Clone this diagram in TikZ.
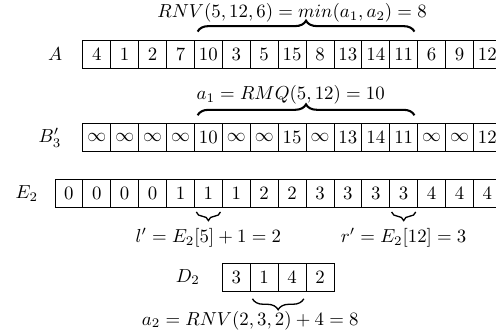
\documentclass[tikz,border=0pt]{standalone}
\usetikzlibrary{decorations.pathreplacing}

\begin{document}
\begin{tikzpicture}[x=14.83pt, y=14.83pt,
    cell/.style={draw, minimum size=14.83pt, inner sep=0pt},
    lbl/.style={anchor=east},
    bigbrc/.style={decorate, line width=1.1pt, decoration={brace, amplitude=5.8pt, raise=4.3pt}},
    midbrc/.style={decorate, line width=0.7pt, decoration={brace, amplitude=5.8pt, raise=3.9pt}},
    smallbrc/.style={decorate, line width=0.7pt, decoration={brace, amplitude=4.6pt, raise=2.2pt}}
]
\useasboundingbox (-2.47,-10.07) rectangle (15.31,1.935);

% array A
\node[lbl] (lA) at (0,0) {$A$};
\foreach \v [count=\i] in {4,1,2,7,10,3,5,15,8,13,14,11,6,9,12}
    \node[cell] (a\i) at (\i,0) {$\v$};

% array B'_3
\node[lbl] (lB) at (-0.03,-3) {$B'_3$};
\foreach \v [count=\i] in {\infty,\infty,\infty,\infty,10,\infty,\infty,15,\infty,13,14,11,\infty,\infty,12}
    \node[cell] (b\i) at (\i,-3) {$\v$};

% array E_2
\node[lbl] (lE) at (-0.87,-5) {$E_2$};
\foreach \v [count=\i from 0] in {0,0,0,0,1,1,1,2,2,3,3,3,3,4,4,4}
    \node[cell] (e\i) at (\i,-5) {$\v$};

% array D_2
\node[lbl] (lD) at (4.93,-8) {$D_2$};
\foreach \v [count=\i from 6] in {3,1,4,2}
    \node[cell] (d\i) at (\i,-8) {$\v$};

% braces and labels
\draw[bigbrc] ([xshift=1.9pt]a5.north west) -- ([xshift=-1.9pt]a12.north east);
\node (rnv) at (8,1.47) {$RNV(5,12,6) = min(a_1,a_2) = 8$};

\draw[bigbrc] ([xshift=1.9pt]b5.north west) -- ([xshift=-1.9pt]b12.north east);
\node (rmq) at (7.95,-1.48) {$a_1 = RMQ(5,12) = 10$};

\draw[smallbrc] ([xshift=-1.2pt]e5.south east) -- ([xshift=1.2pt]e5.south west);
\draw[smallbrc] ([xshift=-1.2pt]e12.south east) -- ([xshift=1.2pt]e12.south west);
\node (lp) at (5,-6.58) {$l' = E_2[5] + 1 = 2$};
\node (rp) at (12,-6.58) {$r' = E_2[12] = 3$};

\draw[midbrc] ([xshift=-1.4pt]d8.south east) -- ([xshift=1.4pt]d7.south west);
\node (atwo) at (6.5,-9.55) {$a_2 = RNV(2,3,2) + 4 = 8$};

\end{tikzpicture}
\end{document}
